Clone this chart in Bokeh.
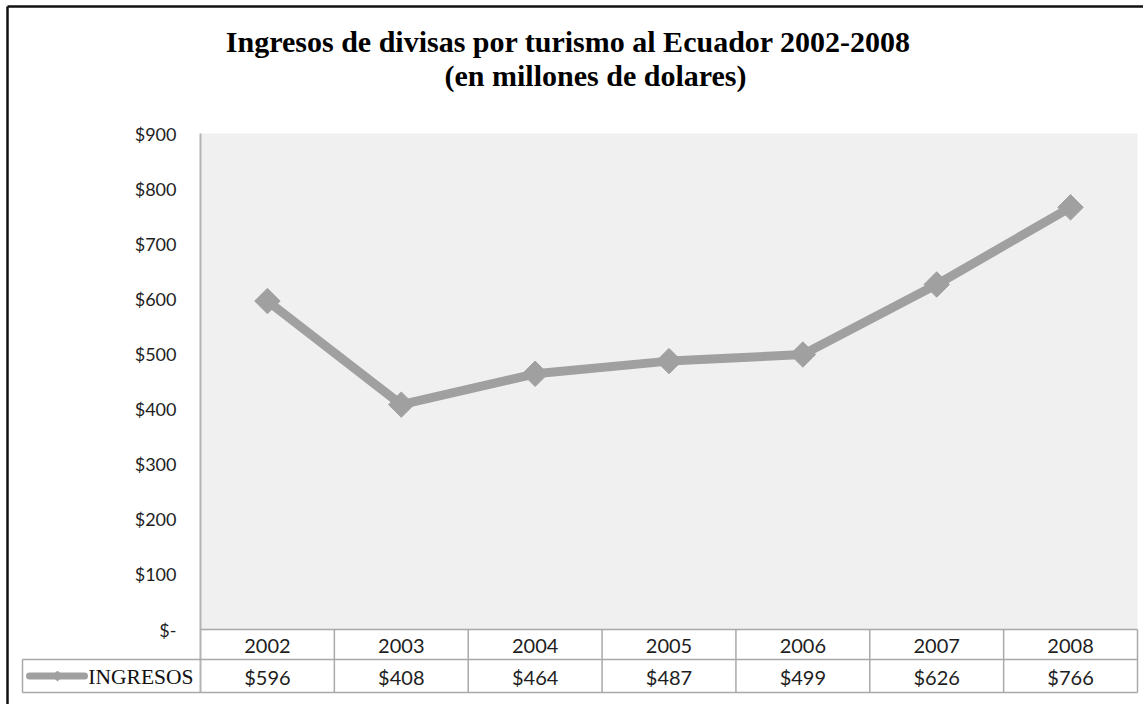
import math
from bokeh.plotting import figure
from bokeh.models import ColumnDataSource, BoxAnnotation, Range1d
from bokeh.core.properties import value
from bokeh.embed import file_html
from bokeh.resources import INLINE

# ---------------- data ----------------
years = ["2002", "2003", "2004", "2005", "2006", "2007", "2008"]
ingresos = [596, 408, 464, 487, 499, 626, 766]
series_name = "INGRESOS"
ytick_values = [0, 100, 200, 300, 400, 500, 600, 700, 800, 900]
ytick_labels = ["$-", "$100", "$200", "$300", "$400", "$500", "$600", "$700", "$800", "$900"]
title_lines = ["Ingresos de divisas por turismo al Ecuador 2002-2008",
               "(en millones de dolares)"]

# ---------------- layout (pixels on the canvas) ----------------
W, H = 1143, 704
PLOT_L, PLOT_R = 200, 1137      # plot area / table columns
Y_ZERO, Y_TOP = 629, 133        # pixel rows of value 0 and of value 900
ROW1_B, ROW2_B = 659, 692       # bottom of year row, bottom of value row
LEG_L = 22                      # left edge of legend cell
BORDER_X, BORDER_Y = 7, 6       # outer chart border
GRAY = "#a0a0a0"
GRID = "#a9a9a9"
TXT = "#1e1e1e"

n = len(years)
ymax = ytick_values[-1]
col_w = (PLOT_R - PLOT_L) / n
ppu = (Y_ZERO - Y_TOP) / ymax


def X(px):
    return (px - PLOT_L) / col_w


def Y(py):
    return (Y_ZERO - py) / ppu


p = figure(width=W, height=H, output_backend="svg", toolbar_location=None,
           x_range=Range1d(X(0), X(W)), y_range=Range1d(Y(H), Y(0)),
           min_border=0)
p.background_fill_color = "white"
p.border_fill_color = "white"
p.outline_line_color = None
p.grid.visible = False
p.axis.visible = False

# outer chart border (top and left)
p.segment(x0=[X(BORDER_X), X(BORDER_X)], y0=[Y(BORDER_Y), Y(BORDER_Y)],
          x1=[X(W + 10), X(BORDER_X)], y1=[Y(BORDER_Y), Y(H + 10)],
          line_color="#111111", line_width=2.5)

# plot area background
p.add_layout(BoxAnnotation(left=0, right=n, bottom=0, top=ymax,
                           fill_color="#f0f0f0", fill_alpha=1, line_color=None,
                           level="underlay"))

# y tick labels
p.text(x=[X(PLOT_L - 24)] * len(ytick_values), y=ytick_values, text=ytick_labels,
       text_align="right", text_baseline="middle", text_font=value("Lato"),
       text_font_size="18px", text_color=TXT)

y_r1, y_r2 = Y(ROW1_B), Y(ROW2_B)
leg_l = X(LEG_L)

# vertical value-axis line (continues as table border)
p.segment(x0=[0], y0=[ymax], x1=[0], y1=[y_r2], line_color="#b4b4b4", line_width=2)

# table grid
p.segment(x0=[0, leg_l, leg_l], y0=[0, y_r1, y_r2], x1=[n, n, n], y1=[0, y_r1, y_r2],
          line_color=GRID, line_width=1.5)
vx = list(range(1, n + 1))
p.segment(x0=vx, y0=[0] * n, x1=vx, y1=[y_r2] * n, line_color=GRID, line_width=1.5)
p.segment(x0=[leg_l], y0=[y_r1], x1=[leg_l], y1=[y_r2], line_color=GRID, line_width=1.5)

# table texts
xc = [i + 0.5 for i in range(n)]
p.text(x=xc, y=[Y((Y_ZERO + ROW1_B) / 2 + 1)] * n, text=years, text_align="center",
       text_baseline="middle", text_font=value("Lato"), text_font_size="20px",
       text_color=TXT)
p.text(x=xc, y=[Y((ROW1_B + ROW2_B) / 2 + 1)] * n, text=["$%d" % v for v in ingresos],
       text_align="center", text_baseline="middle", text_font=value("Lato"),
       text_font_size="20px", text_color=TXT)

# series line with diamond markers
src = ColumnDataSource(dict(x=xc, y=ingresos))
p.line(x="x", y="y", source=src, line_color=GRAY, line_width=9)
p.scatter(x="x", y="y", source=src, marker="square", angle=math.pi / 4,
          size=18, fill_color=GRAY, line_color=GRAY)

# legend key inside the table
ym2 = Y((ROW1_B + ROW2_B) / 2)
p.line(x=[X(LEG_L + 7), X(LEG_L + 62)], y=[ym2, ym2], line_color=GRAY,
       line_width=7, line_cap="round")
p.scatter(x=[X(LEG_L + 35)], y=[ym2], marker="square", angle=math.pi / 4, size=7,
          fill_color=GRAY, line_color=GRAY)
p.text(x=[X(PLOT_L - 7)], y=[Y((ROW1_B + ROW2_B) / 2 + 1)], text=[series_name],
       text_align="right", text_baseline="middle",
       text_font=value("Liberation Serif"), text_font_size="21.5px", text_color="#111111")

# title (two lines)
p.text(x=[X(568), X(595)], y=[Y(41), Y(75)], text=title_lines,
       text_align="center", text_baseline="alphabetic",
       text_font=value("Liberation Serif"), text_font_style="bold",
       text_font_size="30px", text_color="#000000")

open("out.html", "w").write(file_html(p, INLINE))
